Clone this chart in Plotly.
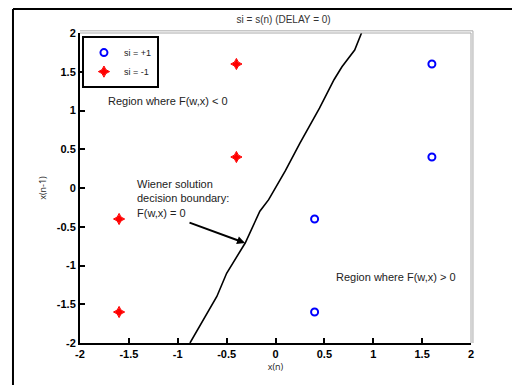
import plotly.graph_objects as go

# Data
pos_x = [1.6, 1.6, 0.4, 0.4]
pos_y = [1.6, 0.4, -0.4, -1.6]
neg_x = [-0.4, -0.4, -1.6, -1.6]
neg_y = [1.6, 0.4, -0.4, -1.6]
bound_x = [-0.875, -0.70, -0.60, -0.50, -0.31, -0.16, -0.07, 0.10, 0.25, 0.45, 0.60, 0.68, 0.745, 0.81, 0.88]
bound_y = [-2.0, -1.62, -1.40, -1.10, -0.71, -0.30, -0.15, 0.22, 0.58, 1.03, 1.40, 1.565, 1.67, 1.78, 2.0]
tick_vals_x = [-2, -1.5, -1, -0.5, 0, 0.5, 1, 1.5, 2]
tick_vals_y = [-2, -1.5, -1, -0.5, 0, 0.5, 1, 1.5, 2]

fig = go.Figure()
fig.add_trace(go.Scatter(x=pos_x, y=pos_y, mode="markers", name="si = +1",
                         marker=dict(symbol="circle-open", size=7, color="blue", line=dict(width=2, color="blue"))))
fig.add_trace(go.Scatter(x=neg_x, y=neg_y, mode="markers", name="si = -1",
                         marker=dict(symbol="star-diamond", size=8, color="red", line=dict(width=1, color="red"))))
fig.add_trace(go.Scatter(x=bound_x, y=bound_y, mode="lines", showlegend=False,
                         line=dict(color="black", width=1.6)))

tickfont = dict(family="Liberation Sans, Arial", size=11, color="black", weight="bold")
fig.update_xaxes(range=[-2, 2], tickvals=tick_vals_x, ticktext=[f"{v:g}" for v in tick_vals_x],
                 ticks="inside", ticklen=5, tickwidth=1.5, tickcolor="black",
                 showline=True, linecolor="black", linewidth=2, showgrid=False, zeroline=False,
                 tickfont=tickfont, title=dict(text="x(n)", font=dict(size=9, color="#222"), standoff=4))
fig.update_yaxes(range=[-2, 2], tickvals=tick_vals_y, ticktext=[f"{v:g}" for v in tick_vals_y],
                 ticks="inside", ticklen=5, tickwidth=1.5, tickcolor="black",
                 showline=True, linecolor="black", linewidth=2, showgrid=False, zeroline=False,
                 tickfont=tickfont, title=dict(text="x(n-1)", font=dict(size=9, color="#222"), standoff=9))

shapes = [
    # gray top/right box lines
    dict(type="line", xref="paper", yref="paper", x0=0, x1=1, y0=1, y1=1, line=dict(color="#aaaaaa", width=1)),
    dict(type="line", xref="paper", yref="paper", x0=0, x1=1.005, y0=1.007, y1=1.007, line=dict(color="#aaaaaa", width=1)),
    dict(type="line", xref="paper", yref="paper", x0=1, x1=1, y0=0, y1=1, line=dict(color="#aaaaaa", width=1)),
    dict(type="line", xref="paper", yref="paper", x0=1.005, x1=1.005, y0=0, y1=1.007, line=dict(color="#aaaaaa", width=1)),
    # outer frame
    dict(type="line", xref="paper", yref="paper", x0=-0.1714, x1=-0.1714, y0=-0.2, y1=1.0774, line=dict(color="black", width=2)),
    dict(type="line", xref="paper", yref="paper", x0=-0.1714, x1=1.2, y0=1.0774, y1=1.0774, line=dict(color="black", width=2)),
]

annfont = dict(family="Liberation Sans, Arial", size=11, color="#222")
annotations = [
    dict(x=-1.095, y=1.123, xref="x", yref="y", text="Region where F(w,x) < 0", showarrow=False, font=annfont),
    dict(x=1.228, y=-1.148, xref="x", yref="y", text="Region where F(w,x) > 0", showarrow=False, font=annfont),
    dict(x=-1.437, y=-0.129, xref="x", yref="y", text="Wiener solution<br>decision boundary:<br>F(w,x) = 0",
         showarrow=False, xanchor="left", align="left", font=annfont),
    dict(x=-0.312, y=-0.71, ax=-0.895, ay=-0.439, xref="x", yref="y", axref="x", ayref="y", text="",
         showarrow=True, arrowhead=2, arrowsize=0.8, arrowwidth=2, arrowcolor="black"),
]

fig.update_layout(
    width=520, height=385,
    margin=dict(l=72, r=57, t=25, b=50),
    paper_bgcolor="white", plot_bgcolor="white",
    title=dict(text="si = s(n) (DELAY = 0)", x=0.53, xanchor="center", y=0.969, yanchor="middle",
               font=dict(family="Liberation Sans, Arial", size=10, color="#333")),
    legend=dict(x=0.005, y=0.99, xanchor="left", yanchor="top", bgcolor="white",
                bordercolor="black", borderwidth=2, font=dict(family="Liberation Sans, Arial", size=9, color="#222"),
                itemwidth=30, tracegroupgap=0),
    shapes=shapes, annotations=annotations, showlegend=True,
)

fig.write_html("out.html")
